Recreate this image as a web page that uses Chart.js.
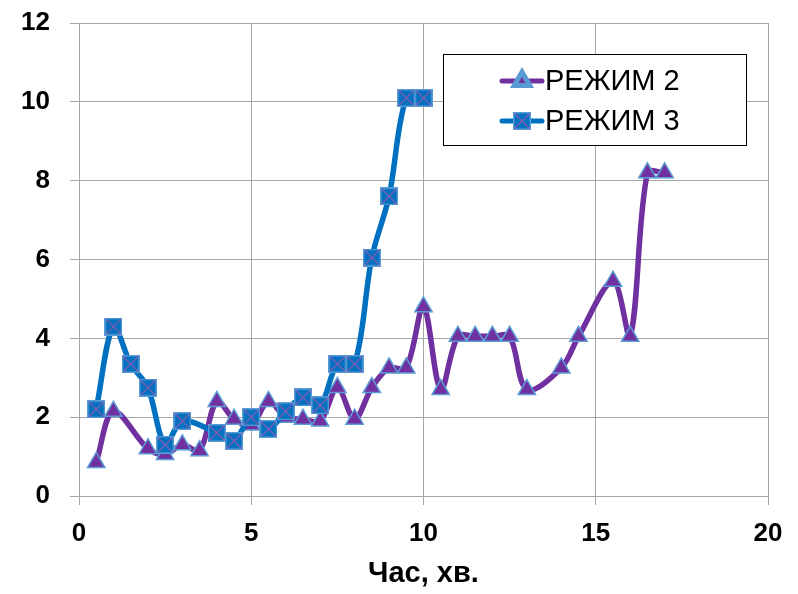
<!DOCTYPE html>
<html>
<head>
<meta charset="utf-8">
<script src="https://cdn.jsdelivr.net/npm/chart.js@4/dist/chart.umd.min.js"></script>
<style>
  html, body { margin: 0; padding: 0; background: #fff; }
  #wrap { width: 798px; height: 594px; }
</style>
</head>
<body>
<div id="wrap"><canvas id="chart"></canvas></div>
<script>
// time, min
const mode2X = [0.5, 1, 2, 2.5, 3, 3.5, 4, 4.5, 5, 5.5, 6, 6.5, 7, 7.5, 8, 8.5, 9, 9.5, 10, 10.5, 11, 11.5, 12, 12.5, 13, 14, 14.5, 15.5, 16, 16.5, 17];
const mode2Y = [0.85, 2.15, 1.2, 1.05, 1.3, 1.15, 2.4, 1.95, 1.8, 2.4, 2.0, 1.95, 1.9, 2.75, 1.95, 2.75, 3.25, 3.25, 4.8, 2.7, 4.05, 4.05, 4.05, 4.05, 2.7, 3.25, 4.05, 5.45, 4.05, 8.2, 8.2];
const mode3X = [0.5, 1, 1.5, 2, 2.5, 3, 4, 4.5, 5, 5.5, 6, 6.5, 7, 7.5, 8, 8.5, 9, 9.5, 10];
const mode3Y = [2.2, 4.3, 3.35, 2.75, 1.3, 1.9, 1.6, 1.4, 2.0, 1.7, 2.15, 2.5, 2.3, 3.35, 3.35, 6.05, 7.6, 10.1, 10.1];
const seriesNames = ['РЕЖИМ 2', 'РЕЖИМ 3'];

const FONT = "'Liberation Sans', Arial, sans-serif";
const PURPLE = '#7030A0';
const BLUE = '#0070C0';
const EDGE = '#5B9BD5';
const GRID = '#A6A6A6';

const toPoints = (xs, ys) => xs.map((x, i) => ({ x: x, y: ys[i] }));

// blue square with a purple cross, used as the point style of the second series
function squareMark(size) {
  const c = document.createElement('canvas');
  c.width = size; c.height = size;
  const g = c.getContext('2d');
  g.fillStyle = BLUE;
  g.fillRect(0, 0, size, size);
  g.strokeStyle = EDGE;
  g.lineWidth = 1.5;
  g.strokeRect(0.75, 0.75, size - 1.5, size - 1.5);
  g.strokeStyle = '#8A5CB5';
  g.lineWidth = 1.2;
  g.beginPath();
  g.moveTo(1.5, 1.5); g.lineTo(size - 1.5, size - 1.5);
  g.moveTo(size - 1.5, 1.5); g.lineTo(1.5, size - 1.5);
  g.stroke();
  return c;
}
const sq = squareMark(18);

// legend in a framed box inside the plot
const boxLegend = {
  id: 'boxLegend',
  afterDraw(chart) {
    const ctx = chart.ctx;
    const area = chart.chartArea;
    const bx = area.left + 364, by = 54, bw = 303, bh = 91;
    ctx.save();
    ctx.fillStyle = '#fff';
    ctx.fillRect(bx, by, bw, bh);
    ctx.strokeStyle = '#000';
    ctx.lineWidth = 1;
    ctx.strokeRect(bx + 0.5, by + 0.5, bw, bh);
    const order = [1, 0];
    order.forEach((di, row) => {
      const ds = chart.data.datasets[di];
      const cy = by + 27 + row * 40;
      const lx = bx + 59;
      ctx.strokeStyle = ds.borderColor;
      ctx.lineWidth = 5;
      ctx.lineCap = 'round';
      ctx.beginPath();
      ctx.moveTo(lx, cy);
      ctx.lineTo(lx + 40, cy);
      ctx.stroke();
      if (ds.pointStyle === 'triangle') {
        ctx.fillStyle = ds.pointBackgroundColor;
        ctx.strokeStyle = ds.pointBorderColor;
      }
      Chart.helpers.drawPoint(ctx, {
        pointStyle: ds.pointStyle,
        radius: ds.pointStyle === 'triangle' ? 9 : ds.pointRadius,
        borderWidth: ds.pointBorderWidth,
        rotation: 0
      }, lx + 20, cy);
      ctx.fillStyle = '#000';
      ctx.font = '29px ' + FONT;
      ctx.textAlign = 'left';
      ctx.textBaseline = 'middle';
      ctx.fillText(ds.label, lx + 43, cy + 1);
    });
    ctx.restore();
  }
};

const xTickFont = { family: FONT, size: 26, weight: 'bold' };
// small lineHeight keeps the top label from pushing the plot down
const yTickFont = { family: FONT, size: 26, weight: 'bold', lineHeight: 0.2 };

new Chart(document.getElementById('chart'), {
  type: 'scatter',
  data: {
    datasets: [
      {
        label: seriesNames[1],
        data: toPoints(mode3X, mode3Y),
        showLine: true,
        borderColor: BLUE,
        borderWidth: 5.5,
        tension: 0.33,
        pointStyle: sq,
        pointRadius: 9,
        pointBorderWidth: 0,
        order: 1
      },
      {
        label: seriesNames[0],
        data: toPoints(mode2X, mode2Y),
        showLine: true,
        borderColor: PURPLE,
        borderWidth: 5.5,
        tension: 0.33,
        pointStyle: 'triangle',
        pointRadius: 10,
        pointBackgroundColor: PURPLE,
        pointBorderColor: EDGE,
        pointBorderWidth: 1.5,
        order: 2
      }
    ]
  },
  options: {
    responsive: true,
    maintainAspectRatio: false,
    animation: false,
    events: [],
    layout: { padding: { left: 0, top: 23, right: 30, bottom: 0 } },
    plugins: {
      legend: { display: false },
      tooltip: { enabled: false }
    },
    scales: {
      x: {
        type: 'linear',
        min: 0,
        max: 20,
        afterFit: (s) => { s.height = 98; },
        ticks: { stepSize: 5, font: xTickFont, color: '#000', padding: 13, maxRotation: 0 },
        grid: { color: GRID, tickLength: 9 },
        border: { color: GRID },
        title: {
          display: true,
          text: 'Час, хв.',
          font: { family: FONT, size: 29, weight: 'bold' },
          color: '#000',
          padding: { top: 0, bottom: 3 }
        }
      },
      y: {
        min: 0,
        max: 12,
        afterFit: (s) => { s.width = 79; },
        ticks: { stepSize: 2, font: yTickFont, color: '#000', padding: 20 },
        grid: { color: GRID, tickLength: 9 },
        border: { color: GRID }
      }
    }
  },
  plugins: [boxLegend]
});
</script>
</body>
</html>
